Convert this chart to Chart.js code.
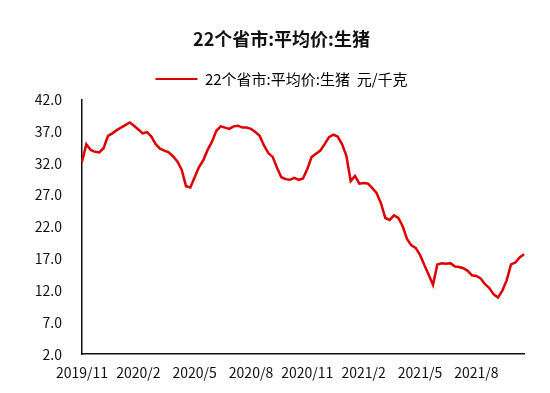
<!DOCTYPE html>
<html lang="zh">
<head>
    <meta charset="UTF-8">
    <title>22个省市:平均价:生猪</title>
    <style>
        body { margin: 0; background: #fff; }
        #wrap { width: 550px; height: 393px; }
    </style>
</head>
<body>
    <div id="wrap">
        <canvas id="pigChart" width="550" height="393"></canvas>
    </div>

    <script src="https://cdn.jsdelivr.net/npm/chart.js"></script>

    <script>
        // weekly average price, yuan/kg (2019/11 .. 2021/10)
        const pigPrice = [
            32.2, 35.0, 34.1, 33.8, 33.7, 34.4, 36.3, 36.7, 37.2, 37.6,
            38.0, 38.4, 37.9, 37.3, 36.7, 36.9, 36.2, 35.0, 34.3, 34.0,
            33.7, 33.1, 32.3, 31.0, 28.4, 28.2, 29.8, 31.4, 32.5, 34.1,
            35.4, 37.1, 37.8, 37.6, 37.4, 37.8, 37.9, 37.6, 37.6, 37.4,
            36.9, 36.3, 34.8, 33.6, 33.0, 31.3, 29.8, 29.5, 29.4, 29.7,
            29.4, 29.6, 31.1, 33.0, 33.5, 34.0, 35.0, 36.1, 36.5, 36.2,
            35.0, 33.2, 29.2, 30.0, 28.8, 28.9, 28.8, 28.1, 27.3, 25.7,
            23.4, 23.1, 23.8, 23.4, 22.1, 20.1, 19.1, 18.7, 17.6, 16.0,
            14.5, 12.9, 16.1, 16.3, 16.2, 16.3, 15.8, 15.7, 15.5, 15.1,
            14.4, 14.3, 13.9, 13.0, 12.4, 11.4, 10.9, 12.0, 13.6, 16.1,
            16.4, 17.2, 17.7
        ];

        // quarter labels shown on the x axis, one every 13 weeks
        const tickLabels = ['2019/11', '2020/2', '2020/5', '2020/8', '2020/11', '2021/2', '2021/5', '2021/8'];
        const weeksPerTick = 13;

        const seriesName = '22个省市:平均价:生猪  元/千克';
        const chartTitle = '22个省市:平均价:生猪';

        // one category per week
        const weeks = pigPrice.map((v, i) => 'w' + i);

        const cjkFont = '"Noto Sans CJK SC", "Noto Sans", sans-serif';
        Chart.defaults.font.family = cjkFont;
        Chart.defaults.color = '#222';

        // leave a little more room between legend and plot
        const legendGap = {
            id: 'legendGap',
            beforeInit(chart) {
                const fit = chart.legend.fit;
                chart.legend.fit = function () {
                    fit.call(this);
                    this.height += 3;
                };
            }
        };

        // centre title and legend a bit right of the canvas middle, like the original
        const headerShift = {
            id: 'headerShift',
            afterLayout(chart) {
                [chart.titleBlock, chart.legend].forEach(b => {
                    if (b) { b.left += 39; }
                });
            }
        };

        const ctx = document.getElementById('pigChart').getContext('2d');
        const pigChart = new Chart(ctx, {
            type: 'line',
            data: {
                labels: weeks,
                datasets: [{
                    label: seriesName,
                    data: pigPrice,
                    borderColor: '#dd0000',
                    backgroundColor: '#dd0000',
                    borderWidth: 2.5,
                    pointRadius: 0,
                    tension: 0,
                    fill: false
                }]
            },
            options: {
                responsive: false,
                animation: false,
                layout: {
                    padding: { top: 4, right: 26, bottom: 2, left: 0 }
                },
                plugins: {
                    title: {
                        display: true,
                        text: chartTitle,
                        color: '#111',
                        font: { size: 18, weight: 'bold' },
                        padding: { top: 24, bottom: 12 }
                    },
                    legend: {
                        display: true,
                        labels: {
                            boxWidth: 42,
                            boxHeight: 2,
                            padding: 10,
                            color: '#222',
                            font: { size: 15 },
                            generateLabels: chart => chart.data.datasets.map((d, i) => ({
                                text: d.label,
                                fillStyle: d.borderColor,
                                strokeStyle: d.borderColor,
                                lineWidth: 0,
                                datasetIndex: i
                            }))
                        }
                    },
                    tooltip: { enabled: false }
                },
                scales: {
                    x: {
                        offset: false,
                        grid: { display: false, drawTicks: false },
                        border: { display: true, color: '#111', width: 1.5 },
                        ticks: {
                            autoSkip: false,
                            maxRotation: 0,
                            padding: 10,
                            color: '#111',
                            font: { size: 14 },
                            callback: (val, index) => index % weeksPerTick === 0 ? (tickLabels[index / weeksPerTick] || '') : ''
                        }
                    },
                    y: {
                        min: 2,
                        max: 42,
                        grid: { display: false, drawTicks: false },
                        border: { display: true, color: '#111', width: 1.5 },
                        ticks: {
                            stepSize: 5,
                            padding: 20,
                            color: '#111',
                            font: { size: 14 },
                            callback: v => v.toFixed(1)
                        },
                        afterFit: scale => { scale.width = 82; }
                    }
                }
            },
            plugins: [legendGap, headerShift]
        });
    </script>
</body>
</html>
